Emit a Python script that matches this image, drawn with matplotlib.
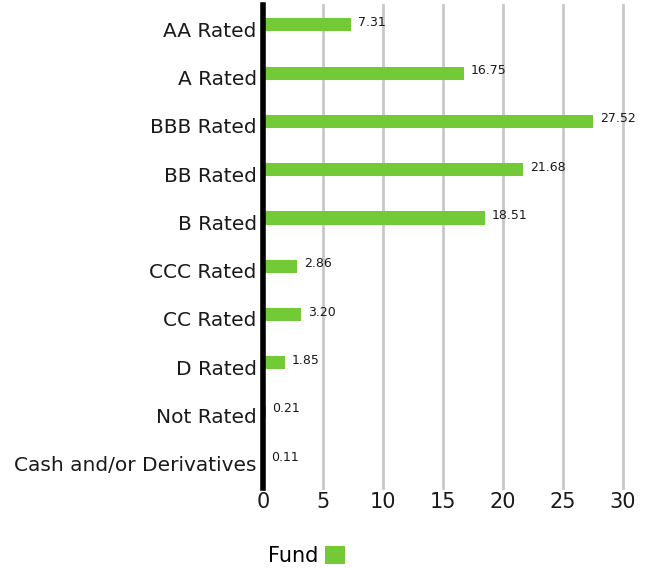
import numpy as np
import matplotlib.pyplot as plt

categories = ["AA Rated", "A Rated", "BBB Rated", "BB Rated", "B Rated",
              "CCC Rated", "CC Rated", "D Rated", "Not Rated",
              "Cash and/or Derivatives"]
fund = [7.31, 16.75, 27.52, 21.68, 18.51, 2.86, 3.20, 1.85, 0.21, 0.11]
xticks = [0, 5, 10, 15, 20, 25, 30]

green = "#74c936"
plt.rcParams['font.family'] = ['DejaVu Sans']

fig = plt.figure(figsize=(6.51, 5.68), dpi=100)
ax = fig.add_axes([263 / 651, 80 / 568, 360 / 651, 483 / 568])

y = np.arange(len(categories))
bars = ax.barh(y - 0.09, fund, height=0.27, color=green, label="Fund", zorder=3)

for yi, v in zip(y, fund):
    ax.annotate(f"{v:.2f}", (v, yi - 0.14), xytext=(5, 0), textcoords="offset points",
                va="center", ha="left", fontsize=9, color="#1a1a1a")

ax.set_xlim(0, 30)
ax.set_ylim(len(categories) - 0.5, -0.5)
ax.set_xticks(xticks)
ax.set_yticks(y)
ax.set_yticklabels(categories)
ax.tick_params(axis="y", length=0, labelsize=14.5, colors="#1a1a1a", pad=4.5)
ax.tick_params(axis="x", length=0, labelsize=15, colors="#1a1a1a", pad=3)
ax.xaxis.grid(True, color="#c8c8c8", linewidth=2, zorder=0)
ax.set_axisbelow(True)
for gl in ax.get_xgridlines():
    gl.set_clip_on(False)
for s in ["top", "right", "bottom"]:
    ax.spines[s].set_visible(False)
ax.spines["left"].set_linewidth(4)
ax.spines["left"].set_color("black")
ax.spines["left"].set_zorder(4)

fig.legend(handles=[bars], labels=["Fund"], loc="center left",
           bbox_to_anchor=(249 / 651, 12 / 568), frameon=False, fontsize=15,
           markerfirst=False, handlelength=0.95, handleheight=0.95, handletextpad=0.35)

fig.savefig("out.png", dpi=100)
